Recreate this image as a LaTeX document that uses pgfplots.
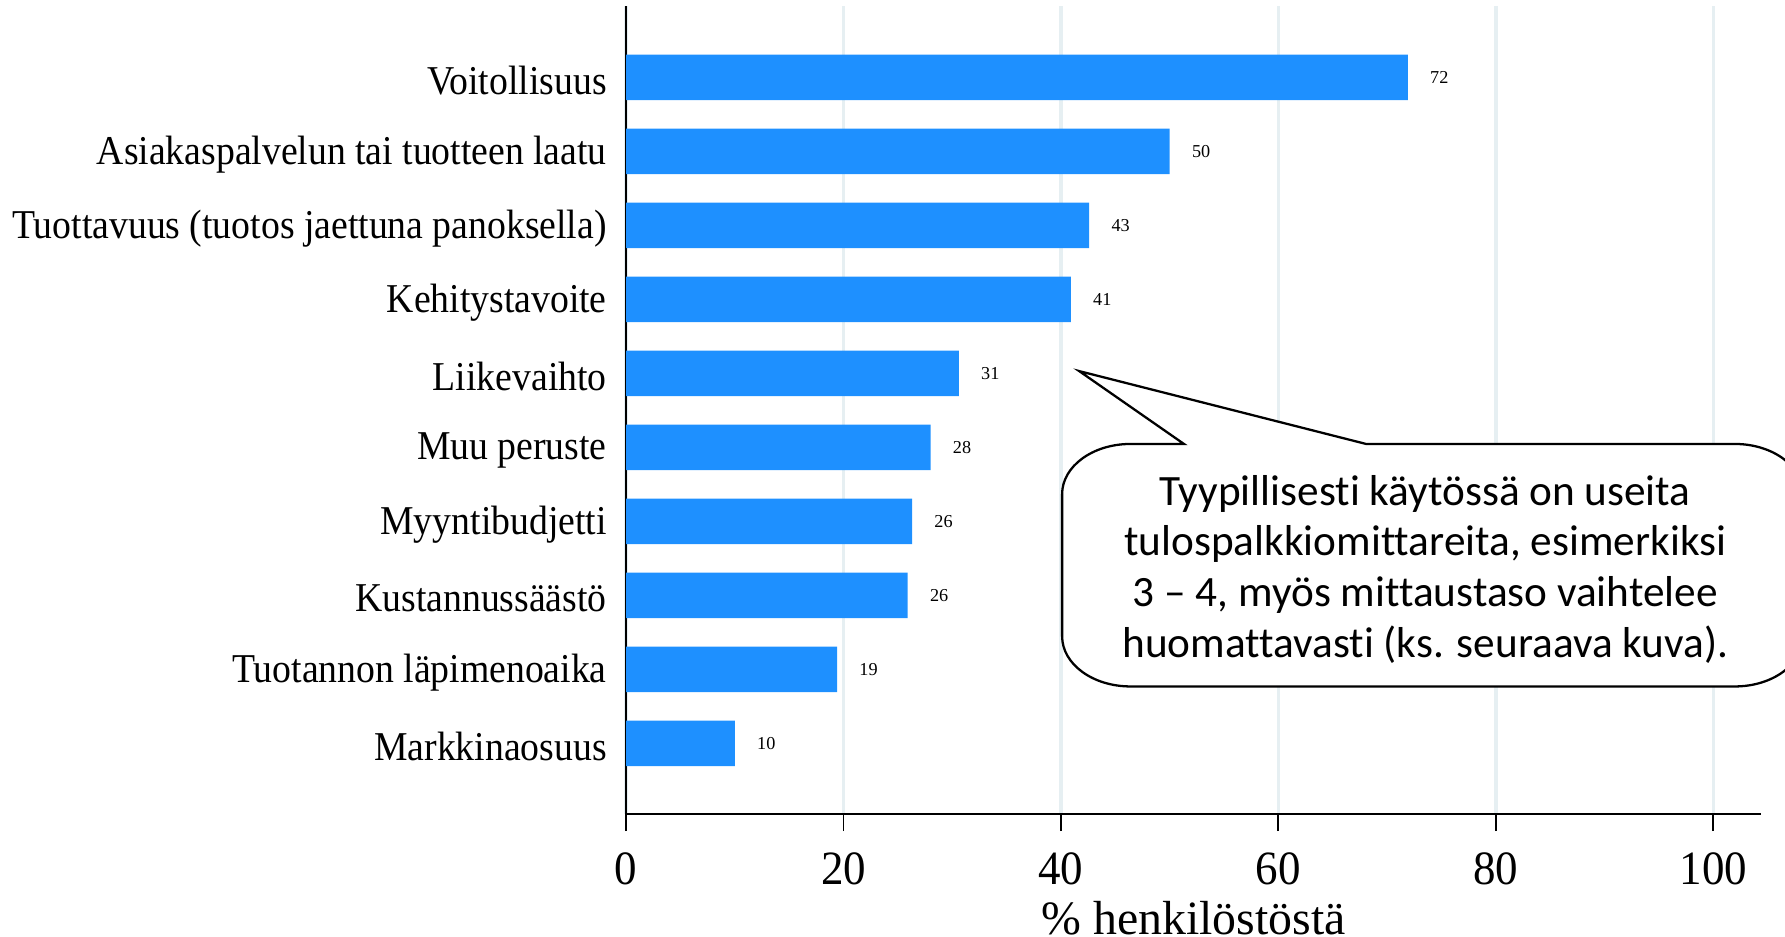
\documentclass[border=0pt]{standalone}
\usepackage{pgfplots}
\pgfplotsset{compat=1.18}
\usepackage{fontspec}
\setmainfont{Liberation Serif}
\newfontfamily\catfont{Liberation Serif}[FakeStretch=0.92]
\newfontfamily\tickfont{Liberation Serif}[FakeStretch=0.94]
\newfontfamily\calloutfont{Carlito}[Ligatures=NoCommon]
\definecolor{barblue}{RGB}{30,144,255}
\definecolor{gridc}{RGB}{230,239,242}

\begin{document}
\begin{tikzpicture}
\useasboundingbox (-275pt,-54pt) rectangle (509pt,357.5pt);
\clip (-275pt,-54pt) rectangle (509pt,357.5pt);
\begin{axis}[
  at={(0,0)}, anchor=south west,
  scale only axis, width=498.5pt, height=355pt,
  xbar, bar width=20pt,
  xmin=0, xmax=104.4, ymin=-0.954, ymax=9.969,
  axis x line=bottom, axis y line=left,
  axis line style={-, line width=1pt, black},
  /pgf/number format/assume math mode=true,
  xtick={0,20,40,60,80,100},
  ytick={0,...,9},
  yticklabels={Markkinaosuus, Tuotannon läpimenoaika, Kustannussäästö, Myyntibudjetti, Muu peruste, Liikevaihto, Kehitystavoite, Tuottavuus (tuotos jaettuna panoksella), Asiakaspalvelun tai tuotteen laatu, Voitollisuus},
  tick align=outside,
  major tick length=7.5pt,
  xtick style={black, line width=0.8pt},
  ytick style={draw=none},
  xmajorgrids,
  grid style={gridc, line width=1.5pt},
  xticklabel style={font=\tickfont\fontsize{21}{24}\selectfont, yshift=-6pt},
  yticklabel style={font=\catfont\fontsize{18}{20}\selectfont, xshift=2.5pt, yshift=-1.5pt},
  xlabel={\% henkilöstöstä},
  xlabel style={font=\fontsize{21}{24}\selectfont, at={(axis description cs:0.5,0)}, anchor=base, yshift=-53pt},
  point meta=explicit,
  nodes near coords={\pgfmathprintnumber{\pgfplotspointmeta}},
  every node near coord/.append style={font=\fontsize{8}{9}\selectfont, black, anchor=west, xshift=6.3pt},
]
\addplot[fill=barblue, draw=none] coordinates {
  (10,0) [10]
  (19.4,1) [19]
  (25.9,2) [26]
  (26.3,3) [26]
  (28,4) [28]
  (30.6,5) [31]
  (40.9,6) [41]
  (42.6,7) [43]
  (50,8) [50]
  (71.9,9) [72]
};
\end{axis}
\draw[line width=1pt, fill=white]
  (245pt,162.5pt) -- (199pt,194.5pt) -- (325pt,162.5pt) -- (487pt,162.5pt)
  arc[start angle=90, end angle=0, x radius=30pt, y radius=22pt]
  -- (517pt,78pt)
  arc[start angle=0, end angle=-90, x radius=30pt, y radius=22pt]
  -- (221.5pt,56pt)
  arc[start angle=270, end angle=180, x radius=30pt, y radius=22pt]
  -- (191.5pt,140.5pt)
  arc[start angle=180, end angle=90, x radius=30pt, y radius=22pt]
  -- cycle;
\node[font=\calloutfont\fontsize{19}{22.25}\selectfont, align=center] at (351pt,107.5pt)
  {Tyypillisesti käytössä on useita\\tulospalkkiomittareita, esimerkiksi\\3 – 4, myös mittaustaso vaihtelee\\huomattavasti (ks. seuraava kuva).};
\end{tikzpicture}
\end{document}
